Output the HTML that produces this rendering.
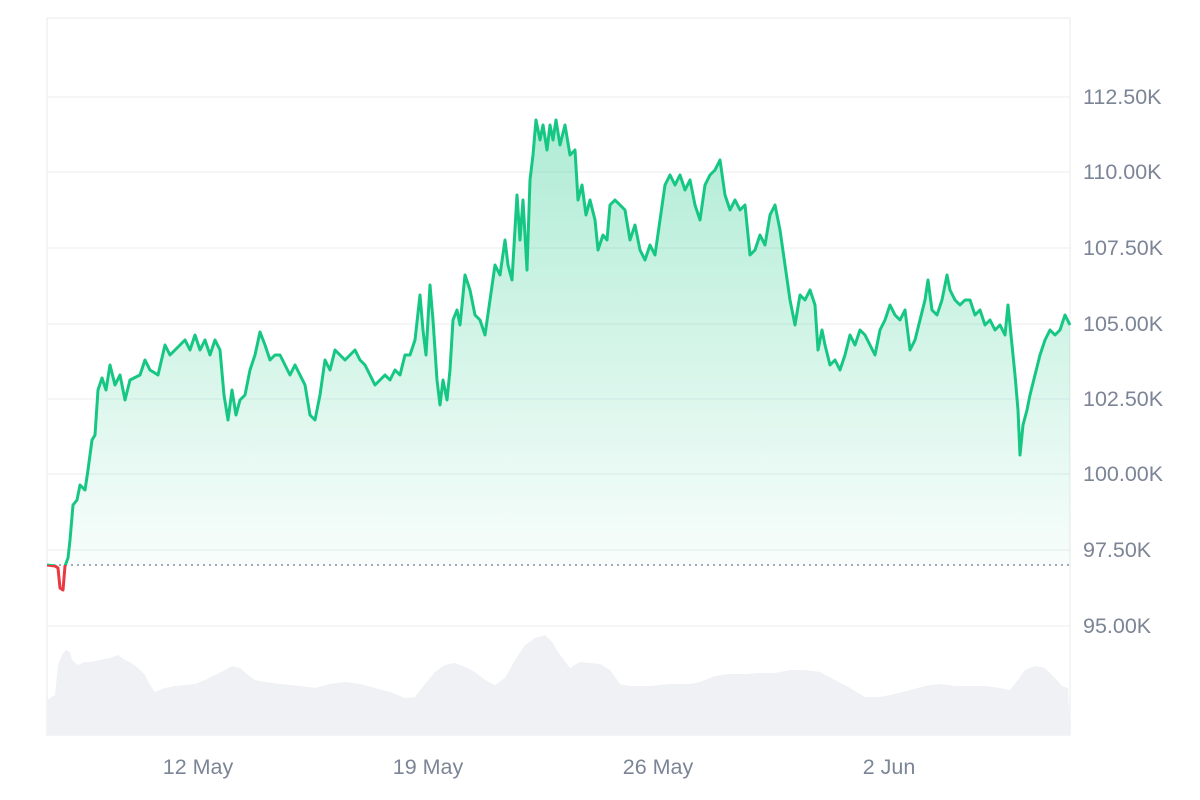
<!DOCTYPE html>
<html><head><meta charset="utf-8"><style>
body{margin:0;background:#fff;}
svg{display:block;font-family:"Liberation Sans",sans-serif;}
</style></head><body>
<svg width="1200" height="800" viewBox="0 0 1200 800">
<defs>
<linearGradient id="g" x1="0" y1="110" x2="0" y2="565" gradientUnits="userSpaceOnUse">
<stop offset="0" stop-color="#16c784" stop-opacity="0.35"/>
<stop offset="1" stop-color="#16c784" stop-opacity="0.03"/>
</linearGradient>
<clipPath id="above"><rect x="0" y="0" width="1200" height="565"/></clipPath>
<clipPath id="below"><rect x="0" y="565" width="1200" height="300"/></clipPath>
</defs>
<rect x="47" y="18" width="1023" height="717" fill="none" stroke="#e6e8ec"/>
<g stroke="#eceef1" stroke-width="1">
<line x1="47" x2="1070" y1="97" y2="97"/><line x1="47" x2="1070" y1="172" y2="172"/>
<line x1="47" x2="1070" y1="248" y2="248"/><line x1="47" x2="1070" y1="324" y2="324"/>
<line x1="47" x2="1070" y1="399" y2="399"/><line x1="47" x2="1070" y1="474" y2="474"/>
<line x1="47" x2="1070" y1="550" y2="550"/><line x1="47" x2="1070" y1="626" y2="626"/>
</g>
<g fill="#7c8596" font-size="21.5">
<text x="1083" y="104">112.50K</text><text x="1083" y="179">110.00K</text>
<text x="1083" y="255">107.50K</text><text x="1083" y="331">105.00K</text>
<text x="1083" y="406">102.50K</text><text x="1083" y="481">100.00K</text>
<text x="1083" y="557">97.50K</text><text x="1083" y="633">95.00K</text>
</g>
<g fill="#7c8596" font-size="21.5" text-anchor="middle">
<text x="198" y="774">12 May</text><text x="428" y="774">19 May</text>
<text x="658" y="774">26 May</text><text x="889" y="774">2 Jun</text>
</g>
<polygon fill="#eff1f4" points="47,735 47,700 55,695 58,665 62,655 66,650 70,652 72,660 78,665 85,662 90,662 100,660 110,658 118,655 125,660 130,662 138,668 145,675 150,685 155,692 160,690 165,688 175,686 185,685 195,684 205,680 215,675 225,670 232,666 240,668 248,675 255,680 265,682 280,684 300,686 315,688 330,684 345,682 360,684 375,688 390,692 405,698 415,697 425,684 435,672 445,665 455,663 465,667 475,672 485,680 495,685 505,678 515,660 525,645 535,638 545,635 552,642 560,655 570,668 580,662 590,663 600,664 610,670 620,684 630,686 650,686 670,684 690,684 700,682 715,676 730,674 745,674 760,673 775,673 790,670 805,670 820,672 835,680 850,688 865,697 880,697 895,694 910,690 925,686 940,684 955,686 970,686 985,686 1000,688 1010,690 1018,680 1025,670 1035,666 1045,668 1055,678 1062,686 1068,688 1070,735"/>
<line x1="47" x2="1070" y1="565" y2="565" stroke="#858ca2" stroke-width="1.5" stroke-dasharray="2,4"/>
<g id="ln">
<polyline id="pts" fill="none" stroke-width="3" stroke-linejoin="round" points="47,565 55,566 58,568 60,588 63,590 65,566 68,558 70,540 73,505 77,500 80,485 85,490 88,470 92,440 95,435 98,390 102,378 106,390 110,365 115,385 120,375 125,400 130,380 140,375 145,360 150,370 158,375 165,345 170,355 175,350 180,345 185,340 190,350 195,335 200,350 205,340 210,355 215,340 220,350 224,395 228,420 232,390 236,415 240,400 245,395 250,370 255,355 260,332 265,345 270,360 275,355 280,355 285,365 290,375 295,365 300,375 305,385 310,415 315,420 320,395 325,360 330,370 335,350 340,355 345,360 350,355 355,350 360,360 365,365 370,375 375,385 380,380 385,375 390,380 395,370 400,375 405,355 410,355 415,340 420,295 423,330 426,355 430,285 433,320 437,380 440,405 443,380 447,400 450,370 453,320 457,310 460,325 465,275 470,290 475,315 480,320 485,335 490,300 495,265 500,275 505,240 508,265 512,280 517,195 520,240 523,200 527,270 530,180 533,155 536,120 540,140 543,125 547,150 550,125 553,140 556,120 560,145 565,125 570,155 575,150 578,200 582,185 586,215 590,200 595,220 598,250 603,235 607,240 610,205 615,200 620,205 625,210 630,240 635,225 640,250 645,260 650,245 655,255 660,220 665,185 670,175 675,185 680,175 685,190 690,180 695,205 700,220 705,185 710,175 715,170 720,160 725,195 730,210 735,200 740,210 745,205 750,255 755,250 760,235 765,245 770,215 775,205 780,230 785,265 790,300 795,325 800,295 805,300 810,290 815,305 818,350 822,330 825,345 830,365 835,360 840,370 845,355 850,335 855,345 860,330 865,335 870,345 875,355 880,330 885,320 890,305 895,315 900,320 905,310 910,350 915,340 920,320 925,300 928,280 932,310 937,315 942,300 947,275 950,290 955,300 960,305 965,300 970,300 975,315 980,310 985,325 990,320 995,330 1000,325 1005,335 1008,305 1012,345 1015,375 1018,410 1020,455 1023,425 1027,410 1030,395 1035,375 1040,355 1045,340 1050,330 1055,335 1060,330 1065,315 1070,325"/>
</g>
<g clip-path="url(#above)">
<polygon fill="url(#g)" points="47,565 55,566 58,568 60,588 63,590 65,566 68,558 70,540 73,505 77,500 80,485 85,490 88,470 92,440 95,435 98,390 102,378 106,390 110,365 115,385 120,375 125,400 130,380 140,375 145,360 150,370 158,375 165,345 170,355 175,350 180,345 185,340 190,350 195,335 200,350 205,340 210,355 215,340 220,350 224,395 228,420 232,390 236,415 240,400 245,395 250,370 255,355 260,332 265,345 270,360 275,355 280,355 285,365 290,375 295,365 300,375 305,385 310,415 315,420 320,395 325,360 330,370 335,350 340,355 345,360 350,355 355,350 360,360 365,365 370,375 375,385 380,380 385,375 390,380 395,370 400,375 405,355 410,355 415,340 420,295 423,330 426,355 430,285 433,320 437,380 440,405 443,380 447,400 450,370 453,320 457,310 460,325 465,275 470,290 475,315 480,320 485,335 490,300 495,265 500,275 505,240 508,265 512,280 517,195 520,240 523,200 527,270 530,180 533,155 536,120 540,140 543,125 547,150 550,125 553,140 556,120 560,145 565,125 570,155 575,150 578,200 582,185 586,215 590,200 595,220 598,250 603,235 607,240 610,205 615,200 620,205 625,210 630,240 635,225 640,250 645,260 650,245 655,255 660,220 665,185 670,175 675,185 680,175 685,190 690,180 695,205 700,220 705,185 710,175 715,170 720,160 725,195 730,210 735,200 740,210 745,205 750,255 755,250 760,235 765,245 770,215 775,205 780,230 785,265 790,300 795,325 800,295 805,300 810,290 815,305 818,350 822,330 825,345 830,365 835,360 840,370 845,355 850,335 855,345 860,330 865,335 870,345 875,355 880,330 885,320 890,305 895,315 900,320 905,310 910,350 915,340 920,320 925,300 928,280 932,310 937,315 942,300 947,275 950,290 955,300 960,305 965,300 970,300 975,315 980,310 985,325 990,320 995,330 1000,325 1005,335 1008,305 1012,345 1015,375 1018,410 1020,455 1023,425 1027,410 1030,395 1035,375 1040,355 1045,340 1050,330 1055,335 1060,330 1065,315 1070,325 1070,565"/>
<use href="#pts" stroke="#16c784"/>
</g>
<g clip-path="url(#below)"><use href="#pts" stroke="#ea3943"/></g>
</svg>
</body></html>
